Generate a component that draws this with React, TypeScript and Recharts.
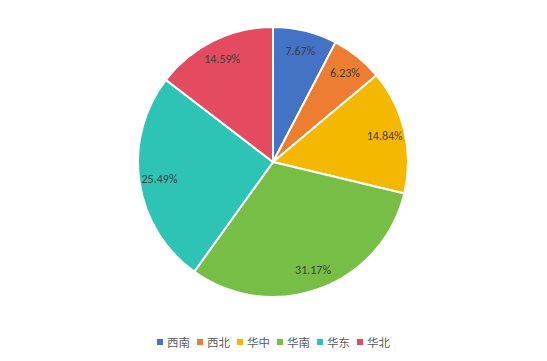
import { PieChart, Pie, Cell, Legend } from "recharts";

// ---------------------------------------------------------------------------
// Data
// ---------------------------------------------------------------------------

const regions = ["西南", "西北", "华中", "华南", "华东", "华北"];
const shares = [7.67, 6.23, 14.84, 31.17, 25.49, 14.59];
const colors = ["#4472C4", "#ED7D31", "#F5B800", "#77BE46", "#2DC4B5", "#E44A60"];

const data = regions.map((name, i) => ({ name, value: shares[i] }));

const RADIAN = Math.PI / 180;

// Excel-style label placed inside the slice, near the rim
function SliceLabel(props: any) {
  const { cx, cy, midAngle, outerRadius, value } = props;
  const r = outerRadius * 0.85;
  const x = cx + r * Math.cos(-midAngle * RADIAN);
  const y = cy + r * Math.sin(-midAngle * RADIAN);
  return (
    <text
      x={x}
      y={y}
      fill="#404040"
      fontSize={12}
      textAnchor="middle"
      dominantBaseline="central"
      fontFamily="Carlito, Calibri, 'Liberation Sans', sans-serif"
    >
      {value.toFixed(2)}%
    </text>
  );
}

// Legend in data order (Recharts would sort it otherwise)
function LegendRow() {
  return (
    <div
      style={{
        display: "flex",
        justifyContent: "center",
        gap: 7,
        fontSize: 11.5,
        color: "#595959",
        fontFamily: "'Noto Sans CJK SC', sans-serif",
      }}
    >
      {regions.map((r, i) => (
        <span key={r} style={{ display: "flex", alignItems: "center", gap: 4 }}>
          <span style={{ display: "inline-block", width: 6, height: 6, background: colors[i] }} />
          {r}
        </span>
      ))}
    </div>
  );
}

export default function App() {
  return (
    <div style={{ position: "absolute", left: 0, top: 0, width: 547, height: 361, background: "#fff" }}>
      <PieChart width={547} height={361} margin={{ top: 0, right: 0, bottom: 0, left: 0 }}>
        <Pie
          data={data}
          dataKey="value"
          nameKey="name"
          cx={273}
          cy={162}
          outerRadius={135}
          startAngle={90}
          endAngle={-270}
          stroke="#ffffff"
          strokeWidth={2}
          label={SliceLabel}
          labelLine={false}
          isAnimationActive={false}
        >
          {data.map((d, i) => (
            <Cell key={d.name} fill={colors[i]} />
          ))}
        </Pie>
        <Legend content={<LegendRow />} wrapperStyle={{ top: 334, left: 0, width: 547 }} />
      </PieChart>
    </div>
  );
}
